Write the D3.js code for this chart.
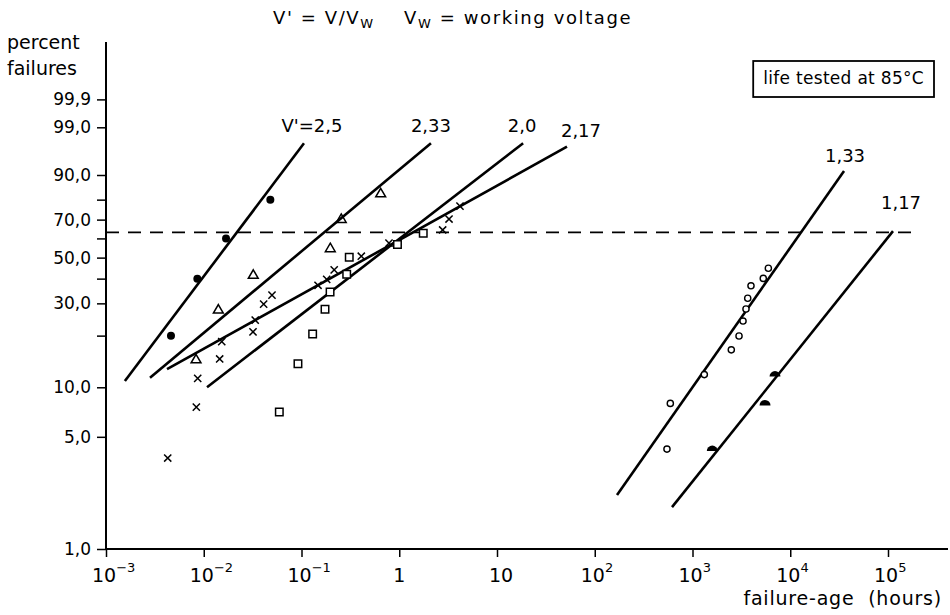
<!DOCTYPE html>
<html>
<head>
<meta charset="utf-8">
<script src="https://cdn.jsdelivr.net/npm/d3@7"></script>
<style>
  body { margin: 0; background: #fff; }
  svg text { font-family: "DejaVu Sans", sans-serif; fill: #000; }
</style>
</head>
<body>
<div id="chart"></div>
<script>
// weibull plot data (hours, percent failures)
const xTickHours = [1e-3, 1e-2, 1e-1, 1, 10, 1e2, 1e3, 1e4, 1e5];
const yTickPct = [1, 5, 10, 30, 50, 70, 90, 99, 99.9];
const yTickLabels = ["1,0", "5,0", "10,0", "30,0", "50,0", "70,0", "90,0", "99,0", "99,9"];
const yMinorPct = [20, 40, 60, 80];

// fitted lines, one per voltage ratio
const lineLabels = ["V'=2,5", "2,33", "2,0", "2,17", "1,33", "1,17"];
const lineLowHours = [0.00156, 0.00282, 0.0108, 0.00421, 169, 617];
const lineLowPct = [10.9, 11.4, 10.0, 12.8, 2.18, 1.83];
const lineHighHours = [0.106, 2.11, 18.5, 52, 35500, 112500];
const lineHighPct = [97.4, 97.4, 97.4, 96.9, 91.3, 63.9];

// measured points
const dotHours = [0.00462, 0.0086, 0.0169, 0.048];
const dotPct = [20, 40, 60, 80];
const triHours = [0.00834, 0.0141, 0.0321, 0.197, 0.255, 0.646];
const triPct = [14.5, 27.6, 41.4, 54.5, 70, 82.6];
const crossHours = [0.00428, 0.0084, 0.00867, 0.01455, 0.01528, 0.0319, 0.0336, 0.041, 0.0499,
  0.1476, 0.181, 0.216, 0.409, 0.785, 2.78, 3.23, 4.18];
const crossPct = [3.7, 7.6, 11.3, 14.7, 18.5, 21, 24.4, 29.7, 33.1, 37.1, 39.7, 44, 50.7, 57.5, 64.5, 70.3, 76.9];
const squareHours = [0.0593, 0.092, 0.130, 0.174, 0.196, 0.29, 0.308, 0.959, 1.76];
const squarePct = [7.1, 13.8, 20.4, 27.9, 34.3, 42, 50.2, 56.8, 62.7];
const circleHours = [548, 593, 1321, 2494, 2992, 3288, 3525, 3672, 3966, 5297, 5970];
const circlePct = [4.2, 8.0, 11.9, 16.6, 19.9, 24.1, 28, 31.9, 36.9, 40.1, 44.8];
const halfDotHours = [1594, 5520, 6982];
const halfDotPct = [4.2, 8.0, 11.9];

// characteristic life line (63.2 %)
const charPct = 63.2;
const charHours = [1e-3, 2.1e5];

(function () {
  let width = 950, height = 615;
  let svg = d3.select('#chart').append('svg')
    .attr('width', width)
    .attr('height', height);

  // weibull probability transform
  let wb = p => Math.log(-Math.log(1 - p / 100));

  let x = d3.scaleLog().domain([1e-3, 1e5]).range([106, 888]);
  let y = d3.scaleLinear().domain([wb(1), wb(90)]).range([549, 175]);
  let px = t => x(t);
  let py = p => y(wb(p));

  // axis lines
  svg.append('line')
    .attr('x1', x(1e-3)).attr('x2', 948)
    .attr('y1', py(1)).attr('y2', py(1))
    .attr('stroke', '#000').attr('stroke-width', 2);
  svg.append('line')
    .attr('x1', x(1e-3)).attr('x2', x(1e-3))
    .attr('y1', 42).attr('y2', py(1))
    .attr('stroke', '#000').attr('stroke-width', 2);

  // y axis
  let yAxis = svg.append('g')
    .attr('transform', 'translate(' + x(1e-3) + ',0)')
    .call(d3.axisLeft(y)
      .tickValues(yTickPct.map(wb))
      .tickSize(9)
      .tickPadding(6)
      .tickFormat((d, i) => yTickLabels[i]));
  yAxis.select('.domain').remove();
  yAxis.selectAll('line').attr('stroke-width', 1.5);
  yAxis.selectAll('text').style('font-size', '17px').attr('font-family', null);

  let yMinor = svg.append('g')
    .attr('transform', 'translate(' + x(1e-3) + ',0)')
    .call(d3.axisLeft(y).tickValues(yMinorPct.map(wb)).tickSize(9).tickFormat(''));
  yMinor.select('.domain').remove();
  yMinor.selectAll('line').attr('stroke-width', 1.5);

  // x axis
  let xAxis = svg.append('g')
    .attr('transform', 'translate(0,' + py(1) + ')')
    .call(d3.axisBottom(x).tickValues(xTickHours).tickSize(8).tickFormat(''));
  xAxis.select('.domain').remove();
  xAxis.selectAll('line').attr('stroke-width', 1.5);

  xTickHours.forEach(t => {
    let e = Math.round(Math.log10(t));
    if (e === 0 || e === 1) {
      svg.append('text')
        .attr('x', x(t) + (e === 1 ? 4 : 0)).attr('y', 582)
        .attr('text-anchor', 'middle')
        .style('font-size', '19px')
        .text(e === 0 ? '1' : '10');
      return;
    }
    let txt = svg.append('text')
      .attr('x', x(t) - 14).attr('y', 582)
      .style('font-size', '19px');
    txt.append('tspan').text('10');
    txt.append('tspan').attr('dy', -10).style('font-size', '13px')
      .text(e < 0 ? '\u2212' + (-e) : '' + e);
  });

  // title + axis labels
  let title = svg.append('text').attr('x', 273).attr('y', 24)
    .style('font-size', '18px').style('letter-spacing', '1.6px')
    .attr('xml:space', 'preserve');
  title.append('tspan').text("V' = V/V");
  title.append('tspan').attr('dy', 4).style('font-size', '13px').text('W');
  title.append('tspan').attr('dy', -4).text('    V');
  title.append('tspan').attr('dy', 4).style('font-size', '13px').text('W');
  title.append('tspan').attr('dy', -4).text(' = working voltage');

  svg.append('text').attr('x', 7).attr('y', 49).style('font-size', '19px').text('percent');
  svg.append('text').attr('x', 7).attr('y', 75).style('font-size', '19px').text('failures');

  svg.append('text').attr('x', 942).attr('y', 605)
    .attr('text-anchor', 'end')
    .attr('xml:space', 'preserve')
    .style('font-size', '19px').style('letter-spacing', '0.8px')
    .text('failure-age  (hours)');

  // legend box
  let boxText = svg.append('text').attr('x', 924).attr('y', 84)
    .attr('text-anchor', 'end')
    .style('font-size', '17px').style('letter-spacing', '0.3px')
    .text('life tested at 85\u00B0C');
  let bb = boxText.node().getBBox();
  svg.append('rect')
    .attr('x', bb.x - 10).attr('y', 61)
    .attr('width', bb.width + 20).attr('height', 36)
    .attr('fill', 'none').attr('stroke', '#000').attr('stroke-width', 1.8);

  // dashed 63.2 % line
  svg.append('line')
    .attr('x1', px(charHours[0])).attr('x2', px(charHours[1]))
    .attr('y1', py(charPct)).attr('y2', py(charPct))
    .attr('stroke', '#000').attr('stroke-width', 1.6)
    .attr('stroke-dasharray', '13,9');

  // fitted lines
  let labelOffsets = [[8, -11], [0, -11], [-1, -11], [14, -10], [1, -9], [8, -22]];
  lineLabels.forEach((lbl, i) => {
    svg.append('line')
      .attr('x1', px(lineLowHours[i])).attr('y1', py(lineLowPct[i]))
      .attr('x2', px(lineHighHours[i])).attr('y2', py(lineHighPct[i]))
      .attr('stroke', '#000').attr('stroke-width', 2.6);
    svg.append('text')
      .attr('x', px(lineHighHours[i]) + labelOffsets[i][0])
      .attr('y', py(lineHighPct[i]) + labelOffsets[i][1])
      .attr('text-anchor', 'middle')
      .style('font-size', '18px')
      .text(lbl);
  });

  // markers
  let zip = (a, b) => a.map((v, i) => ({ t: v, p: b[i] }));

  svg.selectAll('.dot').data(zip(dotHours, dotPct)).enter().append('circle')
    .attr('cx', d => px(d.t)).attr('cy', d => py(d.p)).attr('r', 4)
    .attr('fill', '#000');

  svg.selectAll('.tri').data(zip(triHours, triPct)).enter().append('path')
    .attr('d', d3.symbol().type(d3.symbolTriangle).size(42))
    .attr('transform', d => 'translate(' + px(d.t) + ',' + py(d.p) + ')')
    .attr('fill', 'none').attr('stroke', '#000').attr('stroke-width', 1.5);

  let xMark = 3.6;
  svg.selectAll('.cross').data(zip(crossHours, crossPct)).enter().append('path')
    .attr('d', 'M' + (-xMark) + ',' + (-xMark) + 'L' + xMark + ',' + xMark +
      'M' + (-xMark) + ',' + xMark + 'L' + xMark + ',' + (-xMark))
    .attr('transform', d => 'translate(' + px(d.t) + ',' + py(d.p) + ')')
    .attr('fill', 'none').attr('stroke', '#000').attr('stroke-width', 1.5);

  svg.selectAll('.sq').data(zip(squareHours, squarePct)).enter().append('path')
    .attr('d', d3.symbol().type(d3.symbolSquare).size(56))
    .attr('transform', d => 'translate(' + px(d.t) + ',' + py(d.p) + ')')
    .attr('fill', '#fff').attr('stroke', '#000').attr('stroke-width', 1.5);

  svg.selectAll('.circ').data(zip(circleHours, circlePct)).enter().append('circle')
    .attr('cx', d => px(d.t)).attr('cy', d => py(d.p)).attr('r', 3.1)
    .attr('fill', '#fff').attr('stroke', '#000').attr('stroke-width', 1.4);

  let halfArc = d3.arc().innerRadius(0).outerRadius(5.5)
    .startAngle(-Math.PI / 2).endAngle(Math.PI / 2);
  svg.selectAll('.half').data(zip(halfDotHours, halfDotPct)).enter().append('path')
    .attr('d', halfArc)
    .attr('transform', d => 'translate(' + px(d.t) + ',' + (py(d.p) + 2) + ')')
    .attr('fill', '#000');
})();
</script>
</body>
</html>
